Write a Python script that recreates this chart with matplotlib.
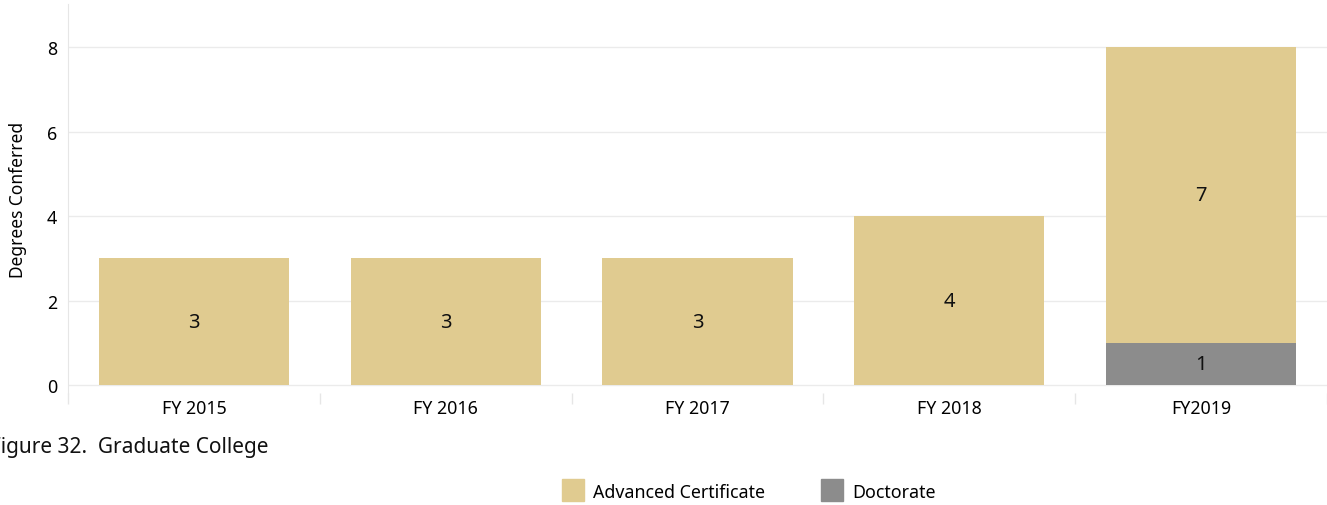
import matplotlib
matplotlib.use("Agg")
import matplotlib.pyplot as plt
from matplotlib.patches import Rectangle
import numpy as np

categories = ["FY 2015", "FY 2016", "FY 2017", "FY 2018", "FY2019"]
doctorate = [0, 0, 0, 0, 1]
advanced_certificate = [3, 3, 3, 4, 7]
y_ticks = [0, 2, 4, 6, 8]

TAN = "#E0CB90"
GRAY = "#8C8C8C"
GRID = "#EBEBEB"

plt.rcParams['font.family'] = ['Noto Sans', 'DejaVu Sans']

W, H = 1327, 506
fig = plt.figure(figsize=(W / 100, H / 100), dpi=100)
ax = fig.add_axes([68 / W, (506 - 394) / H, (W - 68) / W, (394 - 5) / H])

x = np.arange(len(categories))
width = 0.755
ax.bar(x, doctorate, width=width, color=GRAY, zorder=2)
ax.bar(x, advanced_certificate, width=width, bottom=doctorate, color=TAN, zorder=2)

for i in range(len(categories)):
    if doctorate[i] > 0:
        ax.text(x[i], doctorate[i] / 2, str(doctorate[i]), ha="center", va="center",
                fontsize=14.5, color="#111111", zorder=3)
    if advanced_certificate[i] > 0:
        ax.text(x[i], doctorate[i] + advanced_certificate[i] / 2, str(advanced_certificate[i]),
                ha="center", va="center", fontsize=14.5, color="#111111", zorder=3)

ax.set_xlim(-0.5, len(categories) - 0.5)
ax.set_ylim(-0.19, 9.02)
ax.set_yticks(y_ticks)
ax.set_yticklabels([str(v) for v in y_ticks], fontsize=12.8)
ax.set_xticks(x)
ax.set_xticklabels(categories, fontsize=12.8)
ax.set_xticks(np.arange(len(categories) + 1) - 0.5, minor=True)
ax.tick_params(axis="x", which="major", length=0, pad=4)
ax.tick_params(axis="x", which="minor", length=8, color="#E6E6E6", width=1)
ax.tick_params(axis="y", length=0, pad=8)
for v in y_ticks:
    ax.axhline(v, color=GRID, lw=1, zorder=0)
for s in ["top", "right", "bottom"]:
    ax.spines[s].set_visible(False)
ax.spines["left"].set_color("#E6E6E6")
ax.set_ylabel("Degrees Conferred", fontsize=12.5, labelpad=14)

fig.text(-10 / W, 1 - 448 / H, "Figure 32.  Graduate College", fontsize=15, va="center", ha="left",
         color="#111111")

# legend
fig.patches.append(Rectangle((562 / W, 1 - 502 / H), 22 / W, 22 / H, transform=fig.transFigure,
                             color=TAN, figure=fig))
fig.text(593 / W, 1 - 493 / H, "Advanced Certificate", fontsize=12.8, va="center", ha="left")
fig.patches.append(Rectangle((821 / W, 1 - 502 / H), 22 / W, 22 / H, transform=fig.transFigure,
                             color=GRAY, figure=fig))
fig.text(852 / W, 1 - 493 / H, "Doctorate", fontsize=12.8, va="center", ha="left")

fig.savefig("out.png", dpi=100)
